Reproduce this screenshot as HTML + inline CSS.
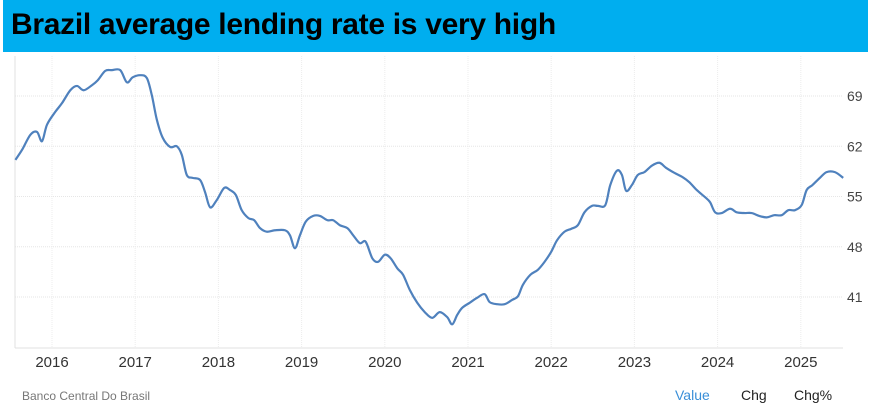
<!DOCTYPE html>
<html><head><meta charset="utf-8">
<style>
body{margin:0;background:#fff;width:873px;height:418px;overflow:hidden;font-family:"Liberation Sans",sans-serif;}
#title{position:absolute;left:3px;top:0;width:865px;height:52px;background:#00aeef;}
#title span{position:absolute;left:8px;top:8px;font-family:"Liberation Sans Narrow","Liberation Sans",sans-serif;font-weight:bold;font-size:30px;color:#000;letter-spacing:-0.3px;}
svg{position:absolute;left:0;top:0;}
</style></head><body>
<div id="title"><span>Brazil average lending rate is very high</span></div>
<svg id="chart" width="873" height="418"></svg>
<script>
const years=[2016,2017,2018,2019,2020,2021,2022,2023,2024,2025];
const yTicks=[41,48,55,62,69];
const dates=[2015.56,2015.64,2015.74,2015.82,2015.88,2015.94,2016.04,2016.12,2016.22,2016.30,2016.38,2016.48,2016.55,2016.64,2016.72,2016.82,2016.90,2016.97,2017.06,2017.14,2017.20,2017.26,2017.33,2017.42,2017.50,2017.56,2017.62,2017.69,2017.78,2017.84,2017.90,2017.98,2018.07,2018.14,2018.21,2018.28,2018.36,2018.43,2018.50,2018.58,2018.68,2018.80,2018.86,2018.92,2018.98,2019.05,2019.14,2019.22,2019.31,2019.38,2019.46,2019.55,2019.62,2019.70,2019.77,2019.85,2019.92,2020.0,2020.07,2020.15,2020.22,2020.30,2020.39,2020.48,2020.57,2020.66,2020.75,2020.81,2020.87,2020.93,2021.02,2021.11,2021.20,2021.26,2021.35,2021.44,2021.53,2021.60,2021.66,2021.75,2021.84,2021.92,2022.00,2022.07,2022.16,2022.24,2022.32,2022.40,2022.49,2022.56,2022.65,2022.71,2022.79,2022.85,2022.90,2022.97,2023.04,2023.12,2023.21,2023.30,2023.38,2023.48,2023.58,2023.66,2023.75,2023.85,2023.91,2023.97,2024.05,2024.15,2024.23,2024.32,2024.41,2024.50,2024.59,2024.68,2024.77,2024.85,2024.93,2025.01,2025.07,2025.14,2025.23,2025.31,2025.41,2025.51];
const values=[60.1,61.5,63.6,64.0,62.7,65.0,66.8,68.0,69.8,70.4,69.8,70.5,71.2,72.5,72.6,72.6,70.9,71.6,71.9,71.5,69.1,65.7,63.2,61.9,62.0,60.8,58.0,57.6,57.3,55.6,53.5,54.5,56.2,55.9,55.2,53.1,52.0,51.7,50.6,50.1,50.3,50.3,49.6,47.8,49.6,51.5,52.3,52.3,51.7,51.7,51.0,50.6,49.6,48.5,48.7,46.4,45.9,46.9,46.4,45.0,44.1,42.0,40.2,38.9,38.1,38.9,38.2,37.2,38.5,39.5,40.2,40.9,41.4,40.3,40.0,40.0,40.6,41.1,42.7,44.1,44.8,45.9,47.3,48.9,50.1,50.5,51.0,52.8,53.7,53.7,53.8,56.6,58.6,58.0,55.8,56.6,58.0,58.4,59.3,59.7,59.0,58.3,57.7,57.0,55.9,54.9,54.2,52.8,52.7,53.3,52.8,52.7,52.7,52.3,52.1,52.4,52.4,53.1,53.1,53.8,55.9,56.6,57.6,58.4,58.4,57.6];
const NS='http://www.w3.org/2000/svg';
const svg=document.getElementById('chart');
const L=15,R=843,T=56,B=348;
const xS=d=>52+(d-2016)*83.2;
const yS=v=>96+(69-v)*7.18;
function mk(tag,attrs){const e=document.createElementNS(NS,tag);for(const k in attrs)e.setAttribute(k,attrs[k]);svg.appendChild(e);return e;}
yTicks.forEach(t=>{
 const g=mk('line',{x1:L,x2:R,y1:yS(t),y2:yS(t),stroke:'#e6e6e6','stroke-dasharray':'1,1'});
 
 
 const tx=mk('text',{x:847,y:yS(t)+5,'font-size':14,fill:'#444'});tx.textContent=t;
 
 
});
years.forEach(y=>{
 const g=mk('line',{x1:xS(y),x2:xS(y),y1:T,y2:B,stroke:'#ececec','stroke-dasharray':'1,1'});
 
 
 const tx=mk('text',{x:xS(y),y:B+19,'font-size':15,fill:'#333','text-anchor':'middle'});tx.textContent=y;
 
 
});
const ax=mk('line',{x1:L,x2:L,y1:T,y2:B,stroke:'#e0e0e0'});


const ax2=mk('line',{x1:L,x2:R,y1:B,y2:B,stroke:'#e0e0e0'});


const pts=dates.map((d,i)=>[xS(d),yS(values[i])]);
let p='M'+pts[0][0]+','+pts[0][1];
for(let i=0;i<pts.length-1;i++){
 const p0=pts[i-1]||pts[i],p1=pts[i],p2=pts[i+1],p3=pts[i+2]||p2;
 const c1=[p1[0]+(p2[0]-p0[0])/6,p1[1]+(p2[1]-p0[1])/6];
 const c2=[p2[0]-(p3[0]-p1[0])/6,p2[1]-(p3[1]-p1[1])/6];
 p+=`C${c1[0]},${c1[1]} ${c2[0]},${c2[1]} ${p2[0]},${p2[1]}`;
}
const line=mk('path',{d:p,fill:'none',stroke:'#4f81bd','stroke-width':2.2,'stroke-linejoin':'round'});


const src=mk('text',{x:22,y:400,'font-size':12,fill:'#777'});src.textContent='Banco Central Do Brasil';


[['Value',675,'#3a8fd8','value-tab'],['Chg',741,'#222','chg-tab'],['Chg%',794,'#222','chg-percent-tab']].forEach(a=>{
 const t=mk('text',{x:a[1],y:400,'font-size':14,fill:a[2]});t.textContent=a[0];
 
 
});
</script>
</body></html>
